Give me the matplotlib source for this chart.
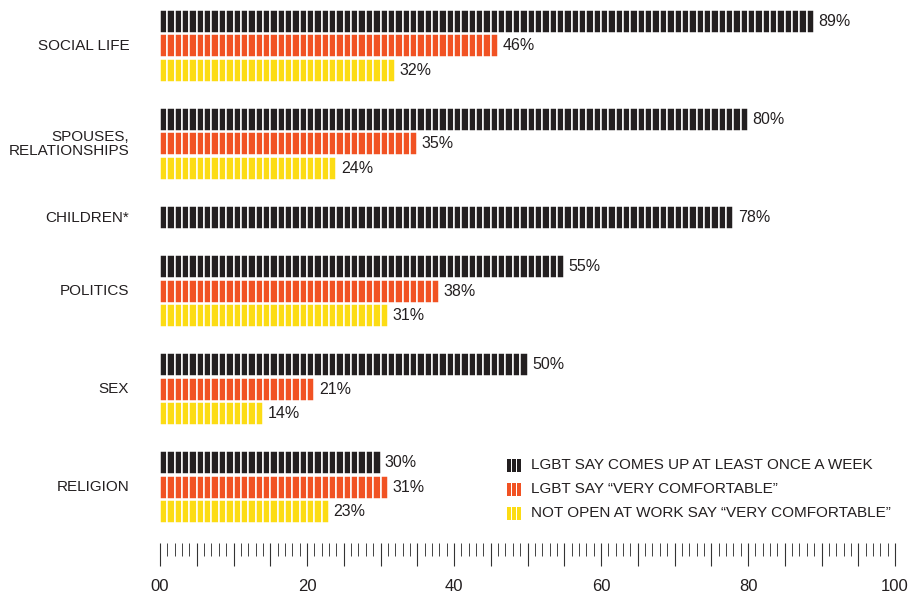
import numpy as np
import matplotlib
matplotlib.use('Agg')
import matplotlib.pyplot as plt
from matplotlib.ticker import MultipleLocator, FuncFormatter
from matplotlib.patches import Rectangle

plt.rcParams['font.family'] = ['Liberation Sans', 'DejaVu Sans']

categories = ['SOCIAL LIFE', 'SPOUSES,\nRELATIONSHIPS', 'CHILDREN*', 'POLITICS', 'SEX', 'RELIGION']
weekly = [89, 80, 78, 55, 50, 30]
comfortable = [46, 35, None, 38, 21, 31]
not_open = [32, 24, None, 31, 14, 23]

series_names = ['LGBT SAY COMES UP AT LEAST ONCE A WEEK',
                'LGBT SAY \u201cVERY COMFORTABLE\u201d',
                'NOT OPEN AT WORK SAY \u201cVERY COMFORTABLE\u201d']
colors = ['#231f20', '#f15223', '#fcdc14']
txt = '#231f20'

fig = plt.figure(figsize=(9.16, 5.95), dpi=100)
ax = fig.add_axes([160/916, 52/595, 735/916, 543/595])
ax.set_xlim(0, 100)
ax.set_ylim(543, 0)

pitch = 24.4     # one bar row
bar_h = 23
group_gap = 24.8

y = 10
for i, cat in enumerate(categories):
    vals = [weekly[i], comfortable[i], not_open[i]]
    rows = []
    for k, v in enumerate(vals):
        if v is None:
            continue
        ax.barh(y + bar_h / 2, [1] * v, left=np.arange(v), height=bar_h,
                color=colors[k], edgecolor='white', linewidth=1.1)
        ax.text(v + 0.6, y + bar_h / 2, f'{v}%', ha='left', va='center',
                fontsize=11.5, color=txt)
        rows.append(y + bar_h / 2)
        y += pitch
    ax.text(-4.2, np.mean(rows), cat, ha='right', va='center', fontsize=11,
            color=txt, linespacing=1.05, clip_on=False)
    y += group_gap

# legend drawn by hand, striped swatches
for k, name in enumerate(series_names):
    cy = 465 + k * 24
    for s in range(3):
        ax.add_patch(Rectangle((47.2 + s * 0.7, cy - 6.5), 0.5, 13, color=colors[k], lw=0))
    ax.text(50.5, cy, name, ha='left', va='center', fontsize=11, color=txt)

for sp in ax.spines.values():
    sp.set_visible(False)
ax.set_yticks([])
ax.xaxis.set_major_locator(MultipleLocator(5))
ax.xaxis.set_minor_locator(MultipleLocator(1))
ax.xaxis.set_major_formatter(FuncFormatter(
    lambda x, p: ('00' if x == 0 else f'{int(x)}') if x % 20 == 0 else ''))
ax.tick_params(axis='x', which='major', length=16.5, width=0.8, color='#333333',
               labelsize=12, labelcolor=txt, pad=9.5)
ax.tick_params(axis='x', which='minor', length=9, width=0.7, color='#444444')

fig.savefig('out.png', dpi=100)
